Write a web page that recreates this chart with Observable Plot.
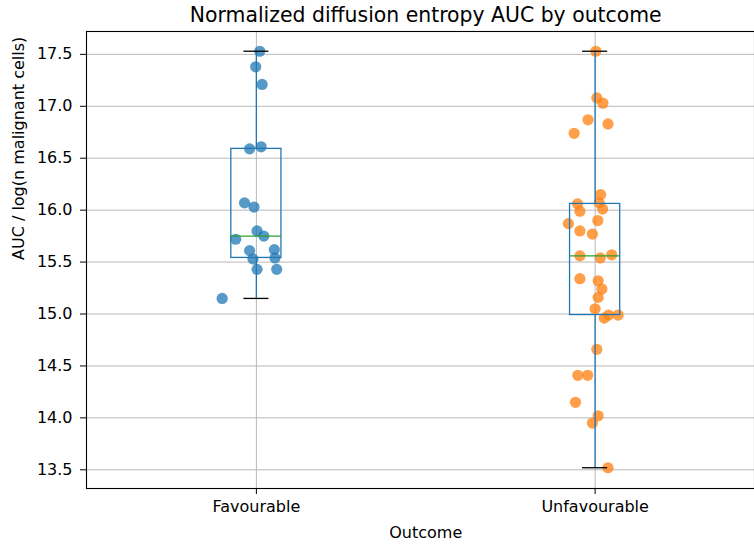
<!DOCTYPE html>
<html>
<head>
<meta charset="utf-8">
<script src="https://cdn.jsdelivr.net/npm/d3@7"></script>
<script src="https://cdn.jsdelivr.net/npm/@observablehq/plot@0.6"></script>
<style>
  body { margin: 0; background: #fff; }
  #chart svg { display: block; font-family: "DejaVu Sans", sans-serif; }
</style>
</head>
<body>
<div id="chart"></div>
<script>
// Outcome groups (box positions 1 and 2)
const outcomes = ["Favourable", "Unfavourable"];

// AUC / log(n malignant cells) per sample
const favourable = [17.53, 17.38, 17.21, 16.59, 16.61, 16.07, 16.03, 15.80, 15.75, 15.72,
                    15.61, 15.62, 15.53, 15.54, 15.43, 15.43, 15.15];
const favourableJitter = [0.010, -0.002, 0.017, -0.020, 0.014, -0.035, -0.007, 0.002, 0.022, -0.061,
                          -0.020, 0.053, -0.010, 0.055, 0.002, 0.060, -0.101];

const unfavourable = [17.53, 17.08, 17.03, 16.87, 16.83, 16.74, 16.15, 16.06, 16.07, 15.99,
                      16.01, 15.87, 15.90, 15.80, 15.77, 15.56, 15.54, 15.57, 15.34, 15.32,
                      15.24, 15.16, 15.05, 14.96, 14.99, 14.99, 14.66, 14.41, 14.41, 14.15,
                      14.02, 13.95, 13.52];
const unfavourableJitter = [0.002, 0.005, 0.023, -0.021, 0.038, -0.062, 0.016, -0.052, 0.012, -0.045,
                            0.022, -0.079, 0.008, -0.045, -0.008, -0.045, 0.015, 0.049, -0.045, 0.009,
                            0.020, 0.009, 0.000, 0.027, 0.040, 0.068, 0.005, -0.051, -0.022, -0.058,
                            0.009, -0.008, 0.038];

const yTicks = [13.5, 14.0, 14.5, 15.0, 15.5, 16.0, 16.5, 17.0, 17.5];

const groups = [
  {name: outcomes[0], pos: 1, values: favourable, jitter: favourableJitter, color: "#1f77b4"},
  {name: outcomes[1], pos: 2, values: unfavourable, jitter: unfavourableJitter, color: "#ff7f0e"}
];

const points = groups.flatMap(g =>
  g.values.map((v, i) => ({outcome: g.name, x: g.pos + g.jitter[i], y: v, color: g.color}))
);

// Box statistics (Tukey whiskers at 1.5 IQR)
const stats = groups.map(g => {
  const s = d3.sort(g.values);
  const q1 = d3.quantileSorted(s, 0.25);
  const med = d3.quantileSorted(s, 0.5);
  const q3 = d3.quantileSorted(s, 0.75);
  const iqr = q3 - q1;
  const lo = d3.min(s.filter(v => v >= q1 - 1.5 * iqr));
  const hi = d3.max(s.filter(v => v <= q3 + 1.5 * iqr));
  return {pos: g.pos, q1, med, q3, lo, hi};
});

const boxHalf = 0.074;
const capHalf = 0.037;
const blue = "#1f77b4";

const chart = Plot.plot({
  width: 754,
  height: 544,
  marginLeft: 86,
  marginRight: 0,
  marginTop: 31,
  marginBottom: 56,
  x: {type: "linear", domain: [0.5, 2.5], range: [86.5, 764]},
  y: {domain: [13.32, 17.72]},
  color: {type: "identity"},
  style: {fontFamily: "DejaVu Sans, sans-serif", fontSize: "16px", color: "#000", background: "#fff"},
  marks: [
    Plot.gridY(yTicks, {stroke: "#b0b0b0", strokeOpacity: 1, strokeWidth: 0.9}),
    Plot.gridX([1, 2], {stroke: "#b0b0b0", strokeOpacity: 1, strokeWidth: 0.9}),
    Plot.dot(points, {x: "x", y: "y", r: 5.6, fill: "color", fillOpacity: 0.75, stroke: null}),
    Plot.ruleX(stats, {x: "pos", y1: "q3", y2: "hi", stroke: blue, strokeWidth: 1.3}),
    Plot.ruleX(stats, {x: "pos", y1: "lo", y2: "q1", stroke: blue, strokeWidth: 1.3}),
    Plot.rect(stats, {x1: d => d.pos - boxHalf, x2: d => d.pos + boxHalf, y1: "q1", y2: "q3",
                      fill: "none", stroke: blue, strokeWidth: 1.3}),
    Plot.ruleY(stats, {y: "med", x1: d => d.pos - boxHalf, x2: d => d.pos + boxHalf,
                       stroke: "#2ca02c", strokeWidth: 1.3}),
    Plot.ruleY(stats, {y: "hi", x1: d => d.pos - capHalf, x2: d => d.pos + capHalf,
                       stroke: "#000", strokeWidth: 1.3}),
    Plot.ruleY(stats, {y: "lo", x1: d => d.pos - capHalf, x2: d => d.pos + capHalf,
                       stroke: "#000", strokeWidth: 1.3}),
    Plot.frame({stroke: "#000", strokeWidth: 1.1}),
    Plot.axisY(yTicks, {tickSize: 6, tickPadding: 8, tickFormat: d => d.toFixed(1),
                        fontSize: 16, label: null, stroke: "#000"}),
    Plot.axisX([1, 2], {tickSize: 6, tickPadding: 6, tickFormat: d => outcomes[d - 1],
                        fontSize: 16, label: null, stroke: "#000"}),
    Plot.text(["Normalized diffusion entropy AUC by outcome"],
              {x: () => 1.5, frameAnchor: "top", dy: -24, fontSize: 20.4, text: d => d}),
    Plot.text(["AUC / log(n malignant cells)"],
              {frameAnchor: "left", dx: -68, rotate: -90, fontSize: 16, text: d => d}),
    Plot.text(["Outcome"],
              {x: () => 1.5, frameAnchor: "bottom", dy: 49, fontSize: 16, text: d => d})
  ]
});

document.getElementById("chart").appendChild(chart);
</script>
</body>
</html>
